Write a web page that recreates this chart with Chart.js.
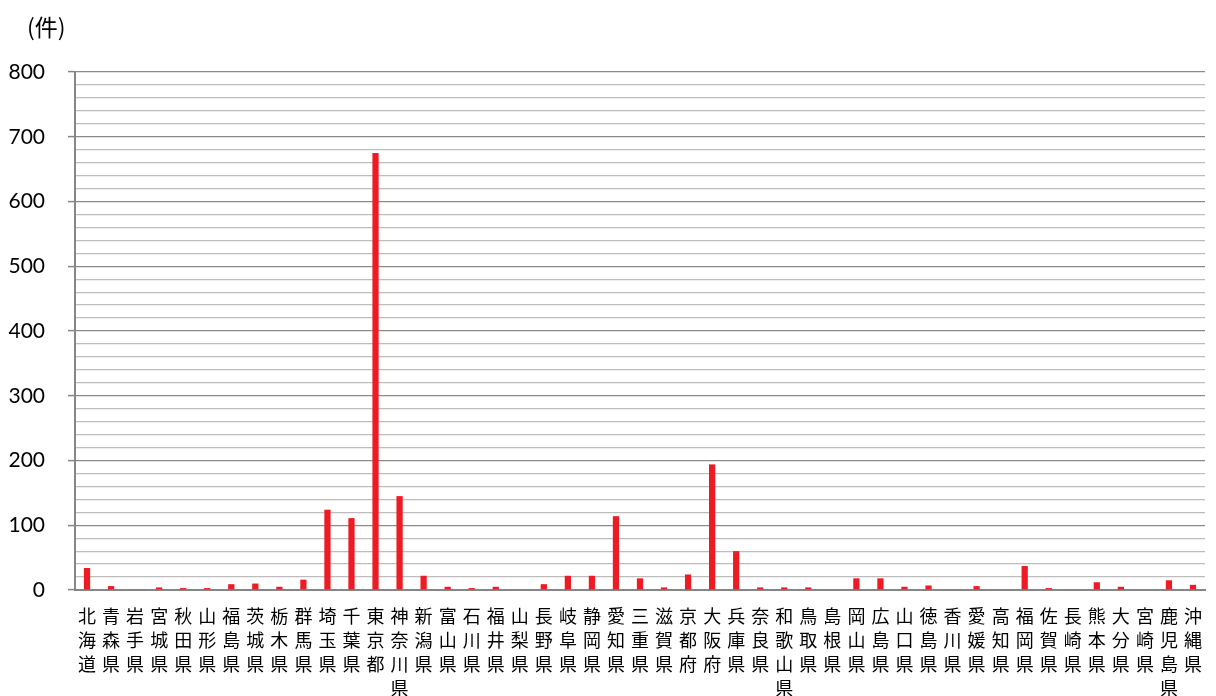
<!DOCTYPE html>
<html lang="ja">
<head>
<meta charset="utf-8">
<title>都道府県別件数</title>
<script src="https://cdn.jsdelivr.net/npm/chart.js@4.4.1/dist/chart.umd.min.js"></script>
<style>
  html, body { margin: 0; padding: 0; background: #fff; }
  #wrap { width: 1216px; height: 696px; position: relative; }
</style>
</head>
<body>
<div id="wrap"><canvas id="c"></canvas></div>
<script>
// 都道府県名（北から順）
const prefectures = [
  '北海道','青森県','岩手県','宮城県','秋田県','山形県','福島県','茨城県','栃木県','群馬県',
  '埼玉県','千葉県','東京都','神奈川県','新潟県','富山県','石川県','福井県','山梨県','長野県',
  '岐阜県','静岡県','愛知県','三重県','滋賀県','京都府','大阪府','兵庫県','奈良県','和歌山県',
  '鳥取県','島根県','岡山県','広島県','山口県','徳島県','香川県','愛媛県','高知県','福岡県',
  '佐賀県','長崎県','熊本県','大分県','宮崎県','鹿児島県','沖縄県'
];

// 件数
const counts = [
  34, 6, 1, 4, 3, 3, 9, 10, 5, 16,
  124, 111, 675, 145, 22, 5, 3, 5, 0, 9,
  22, 22, 114, 18, 4, 24, 194, 60, 4, 4,
  4, 0, 18, 18, 5, 7, 1, 6, 0, 37,
  3, 1, 12, 5, 0, 15, 8
];

// 縦軸の目盛り
const yMin = 0;
const yMax = 800;
const yMinorStep = 20;
const yMajorStep = 100;
const unitLabel = '(件)';

// 県名を一文字ずつ縦に並べる
const verticalLabels = prefectures.map(n => Array.from(n));

const isMajor = v => v % yMajorStep === 0;

const unitPlugin = {
  id: 'unitLabel',
  afterDraw(chart) {
    const ctx = chart.ctx;
    ctx.save();
    ctx.fillStyle = '#000';
    ctx.font = '23px "Noto Sans CJK JP", "Noto Sans", sans-serif';
    ctx.textAlign = 'left';
    ctx.textBaseline = 'middle';
    ctx.fillText(unitLabel, chart.chartArea.left - 48, 27);
    ctx.restore();
  }
};

new Chart(document.getElementById('c'), {
  type: 'bar',
  data: {
    labels: verticalLabels,
    datasets: [{
      data: counts,
      backgroundColor: '#ED1C24',
      borderWidth: 0,
      barPercentage: 0.26,
      categoryPercentage: 1.0
    }]
  },
  options: {
    responsive: true,
    maintainAspectRatio: false,
    animation: false,
    layout: { padding: { top: 72, right: 1, left: 0, bottom: 0 } },
    plugins: {
      legend: { display: false },
      tooltip: { enabled: false }
    },
    scales: {
      x: {
        grid: { color: 'transparent', drawTicks: false },
        border: { color: '#868686', width: 2 },
        ticks: {
          autoSkip: false,
          maxRotation: 0,
          minRotation: 0,
          padding: 14,
          color: '#000',
          font: { family: '"Noto Sans CJK JP", sans-serif', size: 18, lineHeight: 1.34 }
        },
        afterFit(s) { s.height = 106; }
      },
      y: {
        min: yMin,
        max: yMax,
        border: { color: '#868686', width: 2 },
        grid: {
          color: c => isMajor(c.tick.value) ? '#8a8a8a' : '#bdbdbd',
          lineWidth: 1.2,
          drawTicks: true,
          tickLength: 7,
          tickColor: c => isMajor(c.tick.value) ? '#868686' : 'transparent',
          tickWidth: 1.5
        },
        ticks: {
          stepSize: yMinorStep,
          maxTicksLimit: 100,
          autoSkip: false,
          padding: 23,
          color: '#000',
          font: { family: 'Lato, "Noto Sans", sans-serif', size: 21 },
          callback: v => isMajor(v) ? String(v) : ''
        },
        afterFit(s) { s.width = 75; }
      }
    }
  },
  plugins: [unitPlugin]
});
</script>
</body>
</html>
